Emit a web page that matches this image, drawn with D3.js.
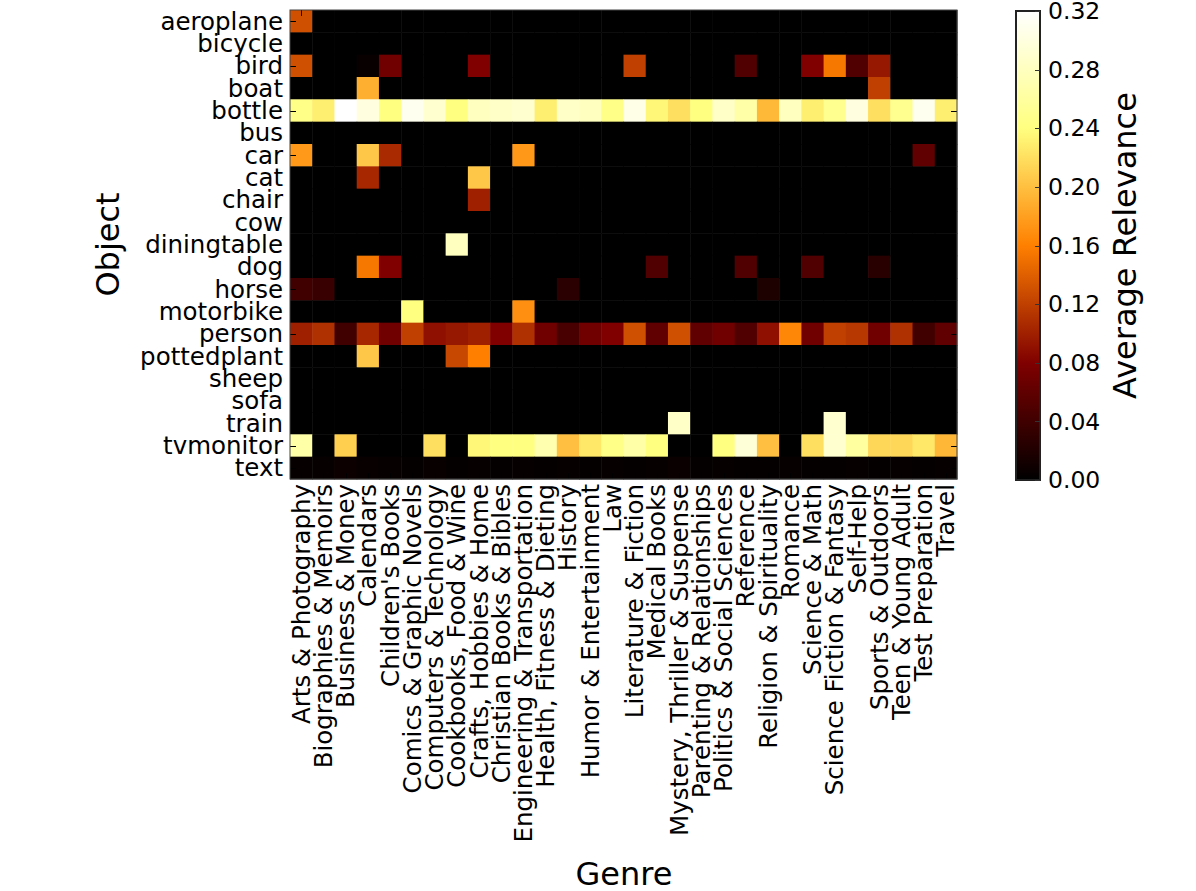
<!doctype html>
<html lang="en">
<head>
<meta charset="utf-8">
<title>Average Relevance by Genre and Object</title>
<style>
  body { margin: 0; background: #fff; }
  text { font-family: "DejaVu Sans", sans-serif; fill: #000; }
</style>
</head>
<body>
<div id="chart"></div>
<script src="https://d3js.org/d3.v7.min.js"></script>
<script>
// genres along the bottom
var genres = ["Arts & Photography", "Biographies & Memoirs", "Business & Money", "Calendars",
  "Children's Books", "Comics & Graphic Novels", "Computers & Technology", "Cookbooks, Food & Wine",
  "Crafts, Hobbies & Home", "Christian Books & Bibles", "Engineering & Transportation",
  "Health, Fitness & Dieting", "History", "Humor & Entertainment", "Law", "Literature & Fiction",
  "Medical Books", "Mystery, Thriller & Suspense", "Parenting & Relationships",
  "Politics & Social Sciences", "Reference", "Religion & Spirituality", "Romance", "Science & Math",
  "Science Fiction & Fantasy", "Self-Help", "Sports & Outdoors", "Teen & Young Adult",
  "Test Preparation", "Travel"];

// objects down the side
var objects = ["aeroplane", "bicycle", "bird", "boat", "bottle", "bus", "car", "cat", "chair", "cow",
  "diningtable", "dog", "horse", "motorbike", "person", "pottedplant", "sheep", "sofa", "train",
  "tvmonitor", "text"];

// one row per object, one value per genre
var relevance = [
  [0.13,0,0,0,0,0,0,0,0,0, 0,0,0,0,0,0,0,0,0,0, 0,0,0,0,0,0,0,0,0,0],
  [0,0,0,0,0,0,0,0,0,0, 0,0,0,0,0,0,0,0,0,0, 0,0,0,0,0,0,0,0,0,0],
  [0.13,0,0,0.005,0.07,0,0,0,0.08,0, 0,0,0,0,0,0.12,0,0,0,0, 0.05,0,0,0.08,0.155,0.05,0.095,0,0,0],
  [0,0,0,0.19,0,0,0,0,0,0, 0,0,0,0,0,0,0,0,0,0, 0,0,0,0,0,0,0.12,0,0,0],
  [0.245,0.23,0.32,0.30,0.24,0.31,0.29,0.24,0.28,0.285, 0.29,0.23,0.285,0.28,0.245,0.305,0.235,0.22,0.24,0.285,
   0.265,0.196,0.28,0.23,0.25,0.30,0.22,0.25,0.31,0.23],
  [0,0,0,0,0,0,0,0,0,0, 0,0,0,0,0,0,0,0,0,0, 0,0,0,0,0,0,0,0,0,0],
  [0.176,0,0,0.205,0.106,0,0,0,0,0, 0.175,0,0,0,0,0,0,0,0,0, 0,0,0,0,0,0,0,0,0.06,0],
  [0,0,0,0.105,0,0,0,0,0.205,0, 0,0,0,0,0,0,0,0,0,0, 0,0,0,0,0,0,0,0,0,0],
  [0,0,0,0,0,0,0,0,0.10,0, 0,0,0,0,0,0,0,0,0,0, 0,0,0,0,0,0,0,0,0,0],
  [0,0,0,0,0,0,0,0,0,0, 0,0,0,0,0,0,0,0,0,0, 0,0,0,0,0,0,0,0,0,0],
  [0,0,0,0,0,0,0,0.28,0,0, 0,0,0,0,0,0,0,0,0,0, 0,0,0,0,0,0,0,0,0,0],
  [0,0,0,0.155,0.08,0,0,0,0,0, 0,0,0,0,0,0,0.05,0,0,0, 0.05,0,0,0.05,0,0,0.026,0,0,0],
  [0.04,0.035,0,0,0,0,0,0,0,0, 0,0,0.027,0,0,0,0,0,0,0, 0,0.018,0,0,0,0,0,0,0,0],
  [0,0,0,0,0,0.24,0,0,0,0, 0.17,0,0,0,0,0,0,0,0,0, 0,0,0,0,0,0,0,0,0,0],
  [0.10,0.11,0.04,0.105,0.07,0.12,0.09,0.095,0.10,0.08, 0.11,0.07,0.045,0.07,0.08,0.13,0.06,0.13,0.06,0.07,
   0.05,0.09,0.165,0.07,0.12,0.115,0.07,0.11,0.04,0.06],
  [0,0,0,0.205,0,0,0,0.125,0.16,0, 0,0,0,0,0,0,0,0,0,0, 0,0,0,0,0,0,0,0,0,0],
  [0,0,0,0,0,0,0,0,0,0, 0,0,0,0,0,0,0,0,0,0, 0,0,0,0,0,0,0,0,0,0],
  [0,0,0,0,0,0,0,0,0,0, 0,0,0,0,0,0,0,0,0,0, 0,0,0,0,0,0,0,0,0,0],
  [0,0,0,0,0,0,0,0,0,0, 0,0,0,0,0,0,0,0.285,0,0, 0,0,0,0,0.29,0,0,0,0,0],
  [0.265,0,0.21,0,0,0,0.22,0,0.235,0.24, 0.24,0.27,0.20,0.225,0.245,0.265,0.24,0,0,0.24,
   0.295,0.20,0,0.22,0.29,0.26,0.215,0.215,0.225,0.195],
  [0.004,0.004,0.008,0.005,0.004,0.003,0.005,0.003,0.004,0.003, 0.004,0.003,0.004,0.003,0.004,0.003,0.004,0.006,0.003,0.004,
   0.003,0.003,0.004,0.003,0.003,0.004,0.003,0.004,0.003,0.004]
];

var colorTicks = [0, 0.04, 0.08, 0.12, 0.16, 0.20, 0.24, 0.28, 0.32];

var W = 1196, H = 891;
var mLeft = 290, mRight = 957, mTop = 10, mBottom = 479;

// matplotlib "afmhot"
function afmhot(t) {
  var c = function(v) { return Math.max(0, Math.min(1, v)) * 255; };
  return d3.rgb(c(2 * t), c(2 * t - 0.5), c(2 * t - 1)).toString();
}
var color = d3.scaleSequential(afmhot).domain([0, 0.32]);

var svg = d3.select("#chart").append("svg")
  .attr("width", W)
  .attr("height", H);

var x = d3.scaleBand().domain(genres).range([mLeft, mRight]).padding(0);
var y = d3.scaleBand().domain(objects).range([mTop, mBottom]).padding(0);

// cells
var cells = [];
relevance.forEach(function(row, i) {
  row.forEach(function(v, j) { cells.push({obj: objects[i], genre: genres[j], v: v}); });
});

svg.append("g").selectAll("rect")
  .data(cells)
  .enter()
  .append("rect")
  .attr("x", function(d) { return x(d.genre); })
  .attr("y", function(d) { return y(d.obj); })
  .attr("width", x.bandwidth() + 0.5)
  .attr("height", y.bandwidth() + 0.5)
  .attr("fill", function(d) { return color(d.v); });

// ticks inside the frame (matplotlib classic)
var tk = svg.append("g").attr("stroke", "#000").attr("stroke-width", 1);
objects.forEach(function(o) {
  var yy = Math.round(y(o) + y.bandwidth() / 2) + 0.5;
  tk.append("line").attr("x1", mLeft).attr("x2", mLeft + 6).attr("y1", yy).attr("y2", yy);
  tk.append("line").attr("x1", mRight - 6).attr("x2", mRight).attr("y1", yy).attr("y2", yy);
});
genres.forEach(function(g) {
  var xx = Math.round(x(g) + x.bandwidth() / 2) + 0.5;
  tk.append("line").attr("x1", xx).attr("x2", xx).attr("y1", mTop).attr("y2", mTop + 6);
  tk.append("line").attr("x1", xx).attr("x2", xx).attr("y1", mBottom - 6).attr("y2", mBottom);
});

svg.append("rect")
  .attr("x", mLeft).attr("y", mTop)
  .attr("width", mRight - mLeft).attr("height", mBottom - mTop)
  .attr("fill", "none").attr("stroke", "#444").attr("stroke-width", 1);

// y labels
svg.append("g").selectAll("text")
  .data(objects)
  .enter()
  .append("text")
  .attr("x", mLeft - 7)
  .attr("y", function(d) { return y(d) + y.bandwidth() / 2; })
  .attr("dy", "0.35em")
  .attr("text-anchor", "end")
  .style("font-size", "24.5px")
  .text(function(d) { return d; });

// x labels, rotated
svg.append("g").selectAll("text")
  .data(genres)
  .enter()
  .append("text")
  .attr("transform", function(d) {
    return "translate(" + (x(d) + x.bandwidth() / 2) + "," + (mBottom + 5) + ") rotate(-90)";
  })
  .attr("dy", "0.35em")
  .attr("text-anchor", "end")
  .style("font-size", "24.5px")
  .text(function(d) { return d; });

svg.append("text")
  .attr("x", 624)
  .attr("y", 885)
  .attr("text-anchor", "middle")
  .style("font-size", "32px")
  .text("Genre");

svg.append("text")
  .attr("transform", "translate(118.5," + ((mTop + mBottom) / 2) + ") rotate(-90)")
  .attr("text-anchor", "middle")
  .style("font-size", "32px")
  .text("Object");

// colorbar
var cbX = 1016, cbW = 24, cbTop = 11, cbBottom = 480;
var cb = d3.scaleLinear().domain([0, 0.32]).range([cbBottom, cbTop]);

var defs = svg.append("defs");
var grad = defs.append("linearGradient")
  .attr("id", "cbgrad")
  .attr("x1", 0).attr("y1", 1).attr("x2", 0).attr("y2", 0);
d3.range(0, 1.0001, 0.05).forEach(function(t) {
  grad.append("stop").attr("offset", t).attr("stop-color", afmhot(t));
});

svg.append("rect")
  .attr("x", cbX).attr("y", cbTop)
  .attr("width", cbW).attr("height", cbBottom - cbTop)
  .attr("fill", "url(#cbgrad)")
  .attr("stroke", "#222").attr("stroke-width", 2);

var cbTicks = svg.append("g");
colorTicks.forEach(function(v) {
  var yy = Math.round(cb(v)) + 0.5;
  cbTicks.append("line")
    .attr("x1", cbX + cbW - 5).attr("x2", cbX + cbW)
    .attr("y1", yy).attr("y2", yy)
    .attr("stroke", "#333");
  cbTicks.append("text")
    .attr("x", cbX + cbW + 8)
    .attr("y", cb(v))
    .attr("dy", "0.35em")
    .style("font-size", "23.5px")
    .text(d3.format(".2f")(v));
});

svg.append("text")
  .attr("transform", "translate(1135.5," + ((cbTop + cbBottom) / 2) + ") rotate(-90)")
  .attr("text-anchor", "middle")
  .style("font-size", "32px")
  .text("Average Relevance");
</script>
</body>
</html>
